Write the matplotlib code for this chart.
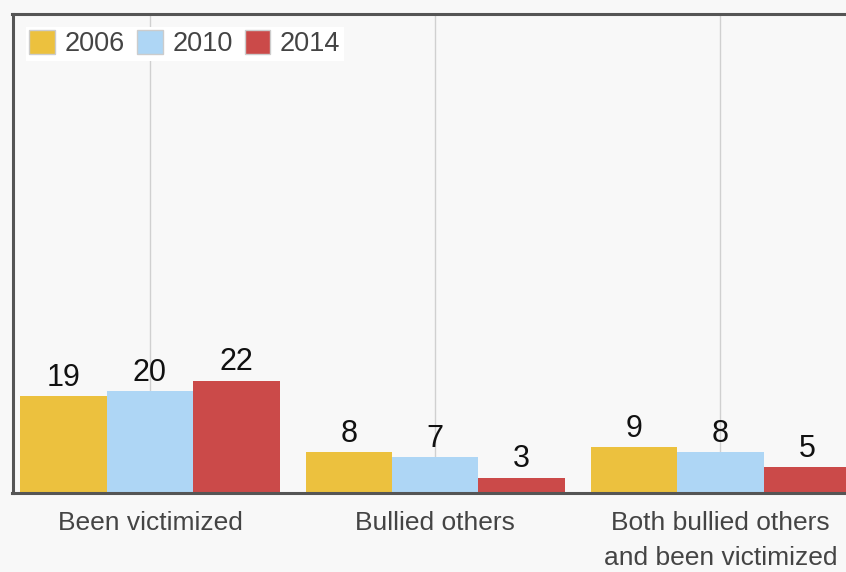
"""Bullying survey results: grouped bars by year"""

import numpy as np
from matplotlib import pyplot as plt
from matplotlib.patches import Patch

categories = ['Been victimized', 'Bullied others', 'Both bullied others\nand been victimized']
years = ['2006', '2010', '2014']
values_2006 = [19, 8, 9]
values_2010 = [20, 7, 8]
values_2014 = [22, 3, 5]

colors = ['#ECC13E', '#AED6F5', '#CB4A49']
bg = '#f8f8f8'

plt.rcParams['font.family'] = ['Liberation Sans', 'DejaVu Sans']

fig = plt.figure(figsize=(8.46, 5.72), dpi=100, facecolor=bg)
W, H = 846, 572
ax_left, ax_top, ax_bottom = 12.5, 13.5, 493
ax = fig.add_axes([ax_left / W, (H - ax_bottom) / H, 1 - ax_left / W, (ax_bottom - ax_top) / H])
ax.set_facecolor(bg)

x = np.arange(len(categories))
bar_w = 0.303
series = [values_2006, values_2010, values_2014]
for i, (vals, color) in enumerate(zip(series, colors)):
    bars = ax.bar(x + (i - 1) * bar_w, vals, bar_w, color=color, zorder=2, linewidth=0)
    ax.bar_label(bars, labels=[str(v) for v in vals], padding=2.5, fontsize=22, color='#111111')

# vertical gridlines at category centres
for xc in x:
    ax.axvline(xc, color='#d0d0d0', linewidth=1, zorder=1)

ax.set_xlim(-0.482, 2.44)
ax.set_ylim(0, 94)
ax.set_yticks([])
ax.set_xticks(x)
ax.set_xticklabels(categories, fontsize=19, color='#444444', linespacing=1.6)
ax.tick_params(axis='x', length=0, pad=13)

for side in ['left', 'top', 'bottom']:
    ax.spines[side].set_color('#555555')
    ax.spines[side].set_linewidth(2.2)
    ax.spines[side].set_zorder(3)
ax.spines['right'].set_visible(False)

handles = [Patch(facecolor=c, edgecolor='#cccccc', linewidth=1) for c in colors]
leg = ax.legend(handles, years, loc='upper left', ncol=3, fontsize=19.5,
                handlelength=0.95, handleheight=0.95, handletextpad=0.35,
                columnspacing=0.45, borderpad=0.12, borderaxespad=0.5,
                frameon=True, fancybox=False, labelcolor='#444444')
leg.get_frame().set_facecolor('white')
leg.get_frame().set_edgecolor('none')
leg.get_frame().set_alpha(1)
leg.set_zorder(4)

fig.savefig('out.png', dpi=100, facecolor=bg)
